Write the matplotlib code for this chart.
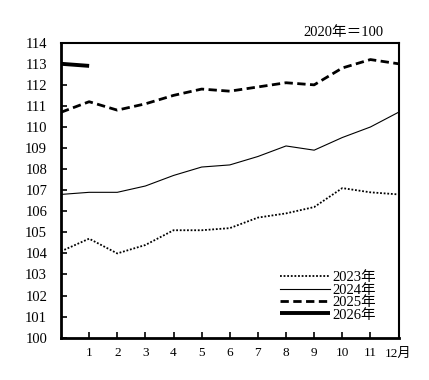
import numpy as np
import matplotlib
matplotlib.use("Agg")
import matplotlib.pyplot as plt

plt.rcParams['font.family'] = ['Liberation Serif', 'Noto Sans CJK JP']

# datos (índice 2020年=100), punto 0 = diciembre del año anterior
meses = np.arange(0, 13)
v2023 = [104.1, 104.7, 104.0, 104.4, 105.1, 105.1, 105.2, 105.7, 105.9, 106.2, 107.1, 106.9, 106.8]
v2024 = [106.8, 106.9, 106.9, 107.2, 107.7, 108.1, 108.2, 108.6, 109.1, 108.9, 109.5, 110.0, 110.7]
v2025 = [110.7, 111.2, 110.8, 111.1, 111.5, 111.8, 111.7, 111.9, 112.1, 112.0, 112.8, 113.2, 113.0]
v2026 = [113.0, 112.9]
etiquetas_x = ['1', '2', '3', '4', '5', '6', '7', '8', '9', '10', '11', '12月']
etiquetas_y = list(range(100, 115))

fig = plt.figure(figsize=(4.29, 3.80), dpi=100)
ax = fig.add_axes([0.1422, 0.1113, 0.7868, 0.7763])

ax.plot(meses, v2023, color='black', lw=1.3, ls=(0, (1, 1.0)), label='2023年')
ax.plot(meses, v2024, color='black', lw=0.8, label='2024年')
ax.plot(meses, v2025, color='black', lw=2.0, ls=(0, (3, 1.6)), label='2025年')
ax.plot(meses[:len(v2026)], v2026, color='black', lw=2.8, solid_capstyle='butt', label='2026年')

ax.set_xlim(0, 12)
ax.set_ylim(100, 114)
ax.set_xticks(range(1, 13))
ax.set_xticklabels(etiquetas_x)
ax.set_yticks(etiquetas_y)
ax.tick_params(axis='x', direction='in', length=4, width=1.2, pad=7, labelsize=9.5)
ax.tick_params(axis='y', direction='in', length=4, width=1.2, pad=10, labelsize=10.5)

for lado in ['left', 'bottom']:
    ax.spines[lado].set_linewidth(2.0)
for lado in ['top', 'right']:
    ax.spines[lado].set_linewidth(1.5)

ax.text(0.955, 1.012, '2020年＝100', transform=ax.transAxes, ha='right', va='bottom', fontsize=10.5)

ax.legend(loc='lower right', bbox_to_anchor=(0.964, 0.02), frameon=False, fontsize=10.5,
          handlelength=3.4, handletextpad=0.2, labelspacing=-0.05, borderaxespad=0.3)

fig.savefig('out.png', dpi=100)
